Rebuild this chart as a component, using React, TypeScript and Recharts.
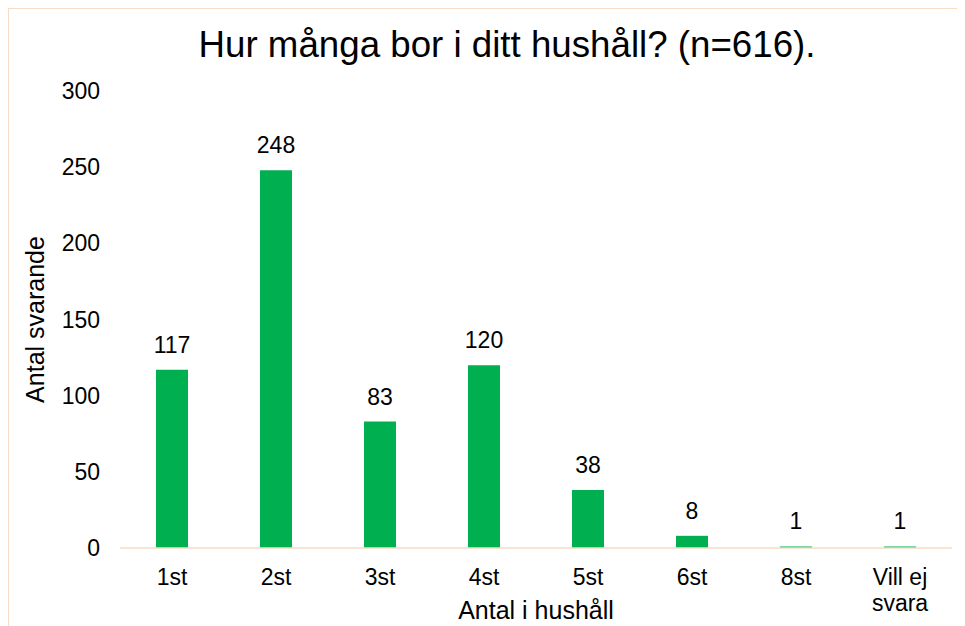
import { Bar, BarChart, LabelList, XAxis, YAxis } from "recharts";

// "\n" marks where a long category name wraps under the axis
const categories = ["1st", "2st", "3st", "4st", "5st", "6st", "8st", "Vill ej\nsvara"];
const counts = [117, 248, 83, 120, 38, 8, 1, 1];
const yTicks = [0, 50, 100, 150, 200, 250, 300];

const chartData = categories.map((name, i) => ({ name, count: counts[i] }));

const FONT = '"Liberation Sans", Arial, sans-serif';
const INK = "#000000";
const AXIS_LINE = "#F9DCC4";

function CategoryTick(props: any) {
  const { x, y, payload } = props;
  const lines = String(payload.value).split("\n");
  return (
    <text
      x={x}
      y={y}
      textAnchor="middle"
      fontSize={23}
      fontFamily={FONT}
      fill={INK}
    >
      {lines.map((line, i) => (
        <tspan key={i} x={x} dy={i === 0 ? 16.5 : 26}>
          {line}
        </tspan>
      ))}
    </text>
  );
}

export default function App() {
  return (
    <div
      style={{
        position: "relative",
        width: 956,
        height: 617,
        borderTop: `1px solid ${AXIS_LINE}`,
        borderLeft: `1px solid ${AXIS_LINE}`,
        fontFamily: FONT,
        background: "#fff",
      }}
    >
      <div
        style={{
          position: "absolute",
          left: 98,
          top: 18,
          width: 800,
          textAlign: "center",
          fontSize: 36.7,
          lineHeight: "36px",
          color: INK,
          whiteSpace: "nowrap",
        }}
      >
        Hur många bor i ditt hushåll? (n=616).
      </div>
      <BarChart
        width={956}
        height={617}
        data={chartData}
        margin={{ top: 82, right: 13, bottom: 0, left: 0 }}
        barSize={32}
      >
        <XAxis
          dataKey="name"
          height={78}
          axisLine={{ stroke: AXIS_LINE, strokeWidth: 1.5 }}
          tickLine={false}
          tickSize={0}
          tickMargin={20}
          interval={0}
          tick={<CategoryTick />}
          label={{
            value: "Antal i hushåll",
            position: "insideBottom",
            offset: 7,
            fontSize: 25,
            fontFamily: FONT,
            fill: INK,
          }}
        />
        <YAxis
          width={111}
          domain={[0, 300]}
          ticks={yTicks}
          axisLine={false}
          tickLine={false}
          tickSize={0}
          tickMargin={20}
          tick={{ fontSize: 23, fontFamily: FONT, fill: INK }}
          label={{
            value: "Antal svarande",
            angle: -90,
            position: "insideLeft",
            offset: 26,
            fontSize: 25,
            fontFamily: FONT,
            fill: INK,
            style: { textAnchor: "middle" },
          }}
        />
        <Bar dataKey="count" fill="#00B050" isAnimationActive={false}>
          <LabelList
            dataKey="count"
            position="top"
            offset={17}
            fontSize={23}
            fontFamily={FONT}
            fill={INK}
          />
        </Bar>
      </BarChart>
    </div>
  );
}
